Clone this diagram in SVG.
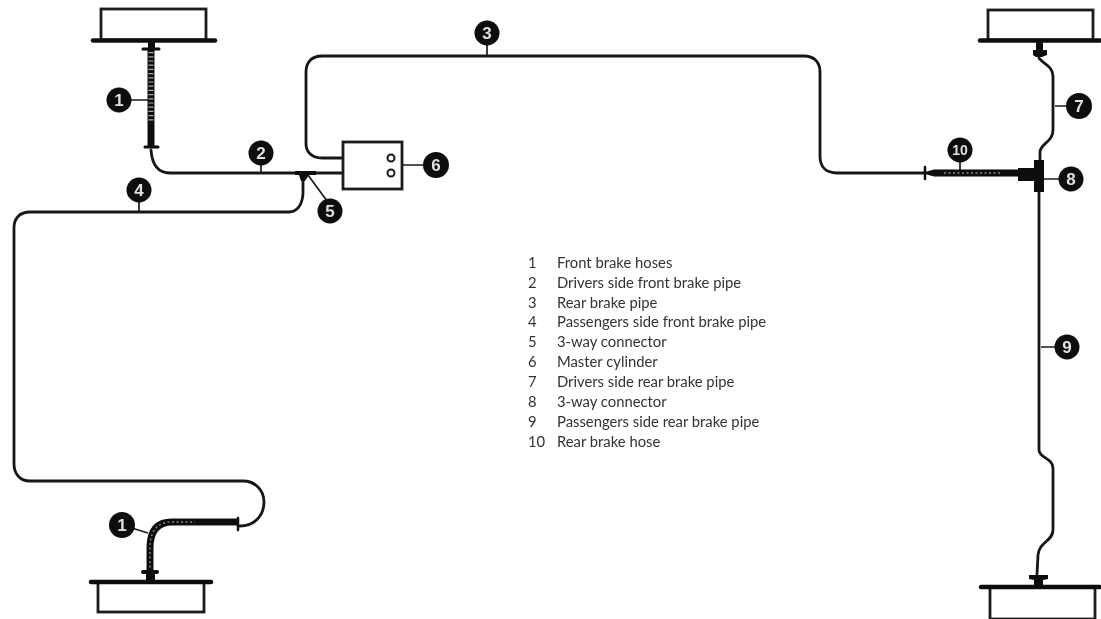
<svg xmlns="http://www.w3.org/2000/svg" width="1101" height="619" viewBox="0 0 1101 619">
<defs><filter id="soft" x="-2%" y="-2%" width="104%" height="104%"><feGaussianBlur stdDeviation="0.55"/></filter></defs>
<style>
.pipe{fill:none;stroke:#141414;stroke-width:2.800;stroke-linecap:round;stroke-linejoin:round}
.leader{fill:none;stroke:#1c1c1c;stroke-width:1.700}
.hose{fill:none;stroke:#0e0e0e;stroke-width:7}
.rib{fill:none;stroke:#a8a8a8;stroke-width:5;stroke-dasharray:1.2 3}
.rib2{fill:none;stroke:#8a8a8a;stroke-width:1.400;stroke-dasharray:2 2.500}
.solid{fill:#0c0c0c;stroke:none}
.drum{fill:#fff;stroke:#1c1c1c;stroke-width:2.800}
.flange{stroke:#0c0c0c;stroke-width:4.500;stroke-linecap:round}
.bub{fill:#0c0c0c}
.num{font-family:"Liberation Sans",Arial,sans-serif;font-weight:700;font-size:17px;fill:#e0e0e0;text-anchor:middle}
.lg{font-family:"Lato",sans-serif;font-size:14.800px;fill:#333}
</style>
<rect width="1101" height="619" fill="#fff"/>
<g filter="url(#soft)">
<g id="connectors">
<path class="pipe" d="M151 150C152 164 158 173 170 173L343 173"/>
<path class="pipe" d="M343 158L322 158C312 158 306 152 306 144L306 72C306 62 312 56 322 56L804 56C814 56 820 62 820 72L820 156C820 167 826 173 837 173L925 173"/>
<path class="pipe" d="M303 176L303 194C302 205 297 212 289 212L30 212C20 212 14 218 14 228L14 464C14 474 20 481 30 481L243 481C255 481 264 490 264 502C264 516 254 526 240 526"/>
<path class="pipe" d="M1039 58C1042 63 1053 66 1053 76L1053 130C1053 142 1040 144 1040 152L1040 160"/>
<path class="pipe" d="M1039 192L1039 450C1039 458 1053 458 1053 468L1053 530C1053 541 1039 542 1038 555L1037 574"/>
<path class="leader" d="M139 190V212M261 153V173M487 33V56M119 100H151M122 525L148 533M960 150V172M402 165H424M1055 106H1067M1044 179H1060M1041 347H1055M308 175L330 205"/>
</g>
<g id="hose-1-top">
<path class="hose" d="M151 50V146"/><path class="rib" d="M151 52V122"/>
<path class="flange" d="M143 49H159M145 147H158" style="stroke-width:3"/>
<path class="solid" d="M148 42H155V50H148Z"/>
</g>
<g id="hose-1-bottom">
<path class="hose" d="M150 576V548C150 531 157 522 172 522L238 522"/><path class="rib2" d="M150 572V548C150 531 157 522 172 522L195 522"/>
<path class="flange" d="M238 518V530" style="stroke-width:2.500"/>
<path class="flange" d="M143 572H157" style="stroke-width:4"/>
<path class="solid" d="M146 570H155V580H146Z"/>
</g>
<g id="hose-10">
<path class="solid" d="M925 172L934 169.500H1020V176.500H934L925 174Z"/><path class="rib2" d="M944 173H1000"/>
<path class="flange" d="M925 167V179" style="stroke-width:2.500"/>
<path class="solid" d="M1018 168H1035V181H1018Z"/>
</g>
<g id="drum-top-left"><rect class="drum" x="101" y="9" width="105" height="31"/><path class="flange" d="M93 40.500H215"/></g>
<g id="drum-bottom-left"><rect class="drum" x="98" y="582" width="106" height="30"/><path class="flange" d="M91 582H211"/></g>
<g id="drum-top-right"><rect class="drum" x="988" y="10" width="105" height="30"/><path class="flange" d="M980 40.500H1100"/><path class="solid" d="M1036 42H1043V50H1047V55L1042 57H1036L1033 55V50H1036Z"/></g>
<g id="drum-bottom-right"><rect class="drum" x="990" y="587" width="105" height="32"/><path class="flange" d="M981 587H1100"/><path class="solid" d="M1029 575H1048V579L1043 580V586H1034V580L1029 579Z"/></g>
<g id="node-5"><path class="solid" d="M295 171H316V175H309L305 181H301L299 175H295Z"/><circle class="bub" cx="330" cy="211" r="12.500"/><text class="num" x="330" y="217">5</text></g>
<g id="node-6"><rect x="343" y="142" width="59" height="47" fill="#fff" stroke="#1c1c1c" stroke-width="2.800"/><circle cx="391" cy="158" r="3.500" fill="#fff" stroke="#1c1c1c" stroke-width="2"/><circle cx="391" cy="173" r="3.500" fill="#fff" stroke="#1c1c1c" stroke-width="2"/><circle class="bub" cx="436" cy="165" r="13"/><text class="num" x="436" y="171">6</text></g>
<g id="node-8"><rect class="solid" x="1034" y="160" width="10" height="32"/><circle class="bub" cx="1071" cy="179" r="12.500"/><text class="num" x="1071" y="185">8</text></g>
<g id="label-1-top"><circle class="bub" cx="119" cy="100" r="12.500"/><text class="num" x="119" y="106">1</text></g>
<g id="label-1-bottom"><circle class="bub" cx="122" cy="525" r="13"/><text class="num" x="122" y="531">1</text></g>
<g id="label-2"><circle class="bub" cx="261" cy="153" r="12.500"/><text class="num" x="261" y="159">2</text></g>
<g id="label-3"><circle class="bub" cx="487" cy="33" r="12.500"/><text class="num" x="487" y="39">3</text></g>
<g id="label-4"><circle class="bub" cx="139" cy="190" r="12.500"/><text class="num" x="139" y="196">4</text></g>
<g id="label-7"><circle class="bub" cx="1079" cy="106" r="13"/><text class="num" x="1079" y="112">7</text></g>
<g id="label-9"><circle class="bub" cx="1067" cy="347" r="12.500"/><text class="num" x="1067" y="353">9</text></g>
<g id="label-10"><circle class="bub" cx="960" cy="150" r="12.500"/><text class="num" x="960" y="155" style="font-size:14px">10</text></g>
</g>
<g id="legend" class="lg" filter="url(#soft)">
<text x="528" y="267.500">1</text><text x="557" y="267.500">Front brake hoses</text>
<text x="528" y="287.500">2</text><text x="557" y="287.500">Drivers side front brake pipe</text>
<text x="528" y="307.500">3</text><text x="557" y="307.500">Rear brake pipe</text>
<text x="528" y="327">4</text><text x="557" y="327">Passengers side front brake pipe</text>
<text x="528" y="347">5</text><text x="557" y="347">3-way connector</text>
<text x="528" y="367">6</text><text x="557" y="367">Master cylinder</text>
<text x="528" y="387">7</text><text x="557" y="387">Drivers side rear brake pipe</text>
<text x="528" y="407">8</text><text x="557" y="407">3-way connector</text>
<text x="528" y="426.500">9</text><text x="557" y="426.500">Passengers side rear brake pipe</text>
<text x="528" y="446.500">10</text><text x="557" y="446.500">Rear brake hose</text>
</g>
</svg>
